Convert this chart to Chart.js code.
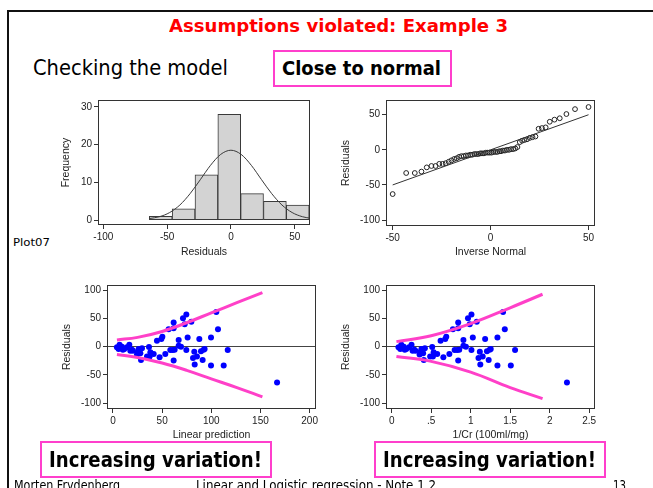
<!DOCTYPE html>
<html><head><meta charset="utf-8">
<script src="https://cdn.jsdelivr.net/npm/chart.js@4.4.0/dist/chart.umd.min.js"></script>
<style>
html,body{margin:0;padding:0;background:#fff;}
body{width:653px;height:488px;position:relative;overflow:hidden;font-family:'Comic Sans MS','DejaVu Sans',sans-serif;color:#000;}
.frame{position:absolute;left:7px;top:10px;width:700px;height:520px;border-top:2px solid #111;border-left:2px solid #111;}
.t{position:absolute;white-space:nowrap;}
.t span{display:inline-block;transform-origin:0 50%;}
.box{position:absolute;border:2.5px solid #ff3fcc;box-sizing:border-box;}
canvas{position:absolute;}
</style></head><body>
<div class="frame"></div>
<div class="t" data-w="339" style="left:169px;top:15px;height:22px;line-height:22px;font-size:18px;font-weight:bold;color:#ff0000;"><span>Assumptions violated: Example 3</span></div>
<div class="t" data-w="195" style="left:33px;top:55px;height:26px;line-height:26px;font-size:21px;"><span>Checking the model</span></div>
<div class="box" style="left:273px;top:50px;width:179px;height:37px;"></div>
<div class="t" data-w="159" style="left:282px;top:55px;height:26px;line-height:26px;font-size:19px;font-weight:bold;"><span>Close to normal</span></div>
<div class="t" data-w="37" style="left:13px;top:236px;height:14px;line-height:14px;font-size:11px;"><span>Plot07</span></div>

<canvas id="c1" width="270" height="170" style="left:55px;top:92px;"></canvas>
<canvas id="c2" width="275" height="170" style="left:335px;top:92px;"></canvas>
<canvas id="c3" width="270" height="168" style="left:55px;top:277px;"></canvas>
<canvas id="c4" width="275" height="168" style="left:335px;top:277px;"></canvas>

<div class="box" style="left:40px;top:441px;width:232px;height:37px;"></div>
<div class="t" data-w="213" style="left:49px;top:446px;height:27px;line-height:27px;font-size:22px;font-weight:bold;"><span>Increasing variation!</span></div>
<div class="box" style="left:374px;top:441px;width:232px;height:37px;"></div>
<div class="t" data-w="213" style="left:383px;top:446px;height:27px;line-height:27px;font-size:22px;font-weight:bold;"><span>Increasing variation!</span></div>

<div class="t" data-w="106" style="left:14px;top:476px;height:18px;line-height:18px;font-size:14px;"><span>Morten Frydenberg</span></div>
<div class="t" data-w="240" style="left:196px;top:476px;height:18px;line-height:18px;font-size:14px;"><span>Linear and Logistic regression - Note 1.2</span></div>
<div class="t" data-w="13" style="left:613px;top:476px;height:18px;line-height:18px;font-size:14px;"><span>13</span></div>

<script>
// ---------- data ----------
// Histogram of residuals (bin centres, counts)
const histCenters = [-55.0, -37.1, -19.2, -1.3, 16.6, 34.5, 52.4];
const histCounts  = [1, 3, 12, 28, 7, 5, 4];
// Overlaid normal density curve
const normX = [-64, -56, -48, -40, -32, -24, -16, -8, 0, 8, 16, 24, 32, 40, 48, 56, 62];
const normY = [0.4, 0.9, 2.0, 4.0, 7.0, 10.7, 14.5, 17.4, 18.5, 17.4, 14.5, 10.7, 7.0, 4.0, 2.0, 0.9, 0.5];
const histXTicks = [-100, -50, 0, 50];
const histYTicks = [0, 10, 20, 30];

// Normal quantile plot
const qqX = [-50.0,-43.1,-38.7,-35.3,-32.6,-30.2,-28.1,-26.2,-24.5,-22.9,-21.4,-20.0,-18.6,-17.3,-16.1,-14.9,-13.7,-12.6,-11.5,-10.4,-9.4,-8.3,-7.3,-6.3,-5.3,-4.4,-3.4,-2.4,-1.4,-0.5,0.5,1.4,2.4,3.4,4.4,5.3,6.3,7.3,8.3,9.4,10.4,11.5,12.6,13.7,14.9,16.1,17.3,18.6,20.0,21.4,22.9,24.5,26.2,28.1,30.2,32.6,35.3,38.7,43.1,50.0];
const qqY = [-63,-33,-33,-31,-25,-23,-23,-20,-20,-19,-17,-15,-13,-12,-10,-9,-9,-8,-8,-7,-7,-6,-6,-6,-5,-5,-5,-4,-4,-4,-4,-3,-3,-3,-2,-2,-1,-1,0,0,1,1,2,4,11,13,14,15,17,18,19,30,31,32,40,43,45,51,58,61];
const qqRefX = [-50, 50];
const qqRefY = [-50, 50];
const qqXTicks = [-50, 0, 50];
const qqYTicks = [-100, -50, 0, 50];

// Residuals vs linear prediction and vs 1/Cr
const linPred = [6.7,5.7,9.1,11.5,14.2,16.6,17.6,19.3,24.4,26.1,27.8,29.5,28.5,34.6,36.6,38,37.3,41.4,44.7,49.2,50.2,47.4,53.2,56.6,58.3,60.7,61.7,61.7,61.7,62.7,66.8,66.8,69.2,71.2,72.9,74.6,74.6,75.9,79.7,81.4,82.7,83.1,85.4,87.8,89.5,91.2,92.2,93.2,99.7,99.7,105.1,106.8,112.6,116.7,166.9,4.0,8.1,10.1,20.3,25.4];
const invCr = [0.122,0.109,0.153,0.185,0.220,0.251,0.264,0.287,0.353,0.376,0.398,0.420,0.407,0.487,0.513,0.531,0.522,0.576,0.619,0.678,0.691,0.654,0.730,0.775,0.797,0.829,0.842,0.842,0.842,0.855,0.908,0.908,0.940,0.966,0.988,1.010,1.010,1.027,1.077,1.099,1.116,1.122,1.152,1.183,1.206,1.228,1.241,1.254,1.339,1.339,1.410,1.432,1.508,1.562,2.219,0.086,0.140,0.166,0.300,0.366];
const resid = [3.5,-4.1,0,-4.1,-1.2,3.5,-7,-5.3,-14,-4.1,-11.7,-2.9,-23.4,-17.5,-0.6,-9.9,-17.5,-12.9,10.5,13.5,17.5,-18.7,-12.9,31,-5.8,-5.8,42.7,32.7,-24.6,-5.3,11.7,1.8,0,50.3,39.8,57.3,-5.8,16.4,44.4,-19.9,-8.8,-31.6,-17.5,13.5,-8.2,-23.4,-5.3,-4.1,16.4,-33.3,61.4,31,-33.3,-5.8,-63.7,-1.2,-2.9,-5.3,-7,-8.8];
// hand-drawn "funnel" curves
const bandLpX = [4, 25, 50, 75, 100, 126, 152];
const bandLpUpper = [12, 16.5, 27, 42.5, 60, 78, 96];
const bandLpLower = [-14, -19, -29, -42, -57, -72.5, -89];
const bandCrX = [0.06, 0.5, 1.0, 1.5, 1.91];
const bandCrUpper = [9, 19.5, 41, 69, 93];
const bandCrLower = [-17.5, -26, -45, -72.5, -92];
const residTicks = [-100, -50, 0, 50, 100];
const lpTicks = [0, 50, 100, 150, 200];
const crTicks = [0, 0.5, 1, 1.5, 2, 2.5];
const crTickLabels = ['0', '.5', '1', '1.5', '2', '2.5'];

// ---------- helpers ----------
const F = "'Liberation Sans', Arial, Helvetica, sans-serif";
const pts = (xs, ys) => xs.map((x, i) => ({x: x, y: ys[i]}));
const plotBox = {id: 'plotBox', afterDraw(chart) {
  const a = chart.chartArea, c = chart.ctx;
  c.save(); c.strokeStyle = '#333'; c.lineWidth = 1;
  c.strokeRect(Math.round(a.left) + 0.5, Math.round(a.top) + 0.5, Math.round(a.right - a.left) - 1, Math.round(a.bottom - a.top) - 1);
  c.restore();
}};
function axis(o, pos) {
  return {
    type: 'linear', position: pos, min: o.min, max: o.max, offset: false,
    afterBuildTicks: s => { s.ticks = o.ticks.map(v => ({value: v})); },
    afterFit: s => { if (pos === 'left') s.width = o.size; else s.height = o.size; },
    ticks: {font: {family: F, size: 10}, color: '#222', padding: 2, maxRotation: 0, minRotation: 0, autoSkip: false,
      callback: (v, i) => o.labels ? o.labels[i] : String(v)},
    grid: {drawOnChartArea: !!o.zero, offset: false,
      color: ctx => (o.zero && ctx.tick && ctx.tick.value === 0) ? '#444' : 'rgba(0,0,0,0)',
      tickColor: '#333', tickLength: 4, lineWidth: 1},
    border: {display: false},
    title: {display: true, text: o.title, font: {family: F, size: 10.5}, color: '#222', padding: {top: o.tp, bottom: o.tp}}
  };
}
function opts(c) {
  return {
    responsive: false, animation: false, events: [],
    layout: {padding: {top: c.padTop, right: c.padRight, left: 0, bottom: 0}},
    plugins: {legend: {display: false}, tooltip: {enabled: false}},
    scales: {x: axis(c.x, 'bottom'), y: axis(c.y, 'left')}
  };
}

// ---------- panel 1: histogram ----------
new Chart(document.getElementById('c1'), {
  type: 'bar',
  data: {datasets: [
    {type: 'bar', data: pts(histCenters, histCounts), backgroundColor: '#d3d3d3', borderColor: '#3a3a3a', borderWidth: 1,
     borderSkipped: false, barPercentage: 1, categoryPercentage: 1, order: 2},
    {type: 'line', data: pts(normX, normY), borderColor: '#3a3a3a', borderWidth: 1, pointRadius: 0, tension: 0.4,
     cubicInterpolationMode: 'monotone', fill: false, order: 1}
  ]},
  options: opts({padTop: 7, padRight: 15,
    x: {min: -104.2, max: 62, ticks: histXTicks, size: 37, title: 'Residuals', tp: 3.4},
    y: {min: -1.3, max: 31.8, ticks: histYTicks, size: 43, title: 'Frequency', tp: 4.9}}),
  plugins: [plotBox]
});

// ---------- panel 2: normal quantile plot ----------
new Chart(document.getElementById('c2'), {
  type: 'scatter',
  data: {datasets: [
    {data: pts(qqRefX, qqRefY), showLine: true, borderColor: '#333', borderWidth: 1, pointRadius: 0},
    {data: pts(qqX, qqY), showLine: false, pointRadius: 2.4, pointBorderWidth: 1, pointBorderColor: '#222', pointBackgroundColor: 'rgba(0,0,0,0)'}
  ]},
  options: opts({padTop: 7, padRight: 15,
    x: {min: -53.4, max: 53.3, ticks: qqXTicks, size: 36, title: 'Inverse Normal', tp: 3.4},
    y: {min: -108.5, max: 71, ticks: qqYTicks, size: 51, title: 'Residuals', tp: 4.4}}),
  plugins: [plotBox]
});

// ---------- panel 3 / 4: residual plots ----------
function residChart(id, xs, bx, up, lo, padRight, xo, ysize, ytp) {
  new Chart(document.getElementById(id), {
    type: 'scatter',
    data: {datasets: [
      {data: pts(bx, up), showLine: true, borderColor: '#ff40c8', borderWidth: 3, pointRadius: 0, tension: 0.4, order: 1},
      {data: pts(bx, lo), showLine: true, borderColor: '#ff40c8', borderWidth: 3, pointRadius: 0, tension: 0.4, order: 1},
      {data: pts(xs, resid), showLine: false, pointRadius: 3, pointBorderWidth: 0, pointBackgroundColor: '#0000ff', pointBorderColor: '#0000ff', order: 2}
    ]},
    options: opts({padTop: 7, padRight: padRight, x: xo,
      y: {min: -110.5, max: 109.4, ticks: residTicks, size: ysize, title: 'Residuals', tp: ytp, zero: true}}),
    plugins: [plotBox]
  });
}
residChart('c3', linPred, bandLpX, bandLpUpper, bandLpLower, 9,
  {min: -6.1, max: 206.5, ticks: lpTicks, size: 36, title: 'Linear prediction', tp: 3.4}, 52, 5.9);
residChart('c4', invCr, bandCrX, bandCrUpper, bandCrLower, 15,
  {min: -0.072, max: 2.574, ticks: crTicks, labels: crTickLabels, size: 36, title: '1/Cr (100ml/mg)', tp: 3.4}, 51, 4.4);

// ---------- fit slide text widths ----------
document.querySelectorAll('.t').forEach(d => {
  const s = d.querySelector('span'); const w = s.getBoundingClientRect().width;
  const target = parseFloat(d.dataset.w);
  if (w > 0 && target) s.style.transform = 'scaleX(' + (target / w) + ')';
});
</script>
</body></html>
